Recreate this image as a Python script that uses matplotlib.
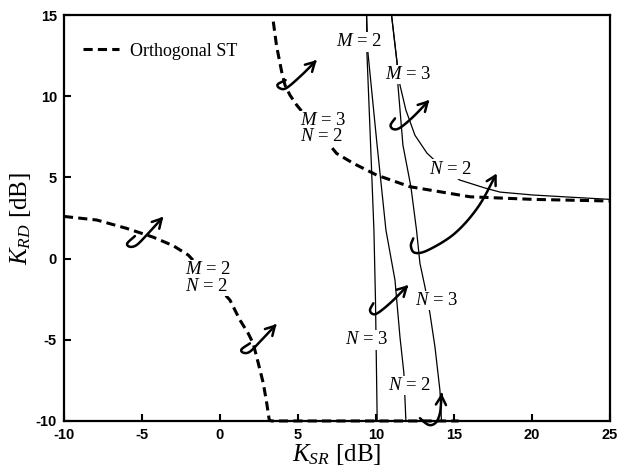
import numpy as np
import matplotlib
matplotlib.use("Agg")
import matplotlib.pyplot as plt
from matplotlib.patches import FancyArrowPatch
from matplotlib.path import Path

plt.rcParams['font.family'] = ['Liberation Serif', 'DejaVu Serif']
plt.rcParams['mathtext.fontset'] = 'custom'
plt.rcParams['mathtext.rm'] = 'Liberation Serif'
plt.rcParams['mathtext.it'] = 'Liberation Serif:italic'
plt.rcParams['mathtext.bf'] = 'Liberation Serif:bold'
plt.rcParams['axes.unicode_minus'] = False

# orthogonal space-time curves (dashed)
ost_m2n2_x = [-10, -7.9, -6.0, -4.3, -3.0, -2.03, 0.64, 1.28, 1.81, 2.13, 2.46, 2.78, 3.0, 3.16, 3.3, 15.3]
ost_m2n2_y = [2.6, 2.38, 1.87, 1.33, 0.8, 0.22, -2.55, -3.78, -4.6, -5.22, -6.45, -7.68, -8.91, -9.94, -10, -10]
ost_m3n2_x = [3.42, 3.63, 3.96, 4.17, 4.49, 4.92, 7.48, 8.55, 10.04, 12.18, 14.1, 16.03, 20.08, 25]
ost_m3n2_y = [14.6, 13.1, 11.5, 10.69, 10.07, 9.46, 6.48, 5.87, 5.15, 4.43, 4.12, 3.81, 3.65, 3.55]

# non-orthogonal curves (solid)
m2n3_x = [9.40, 9.42, 9.62, 9.87, 9.97, 10.08]
m2n3_y = [15, 12.7, 7.92, 1.76, -2.55, -10]
m2n2_x = [9.40, 9.49, 10.06, 10.64, 11.22, 11.54, 11.79, 11.92]
m2n2_y = [15, 12.66, 7.12, 1.76, -1.32, -4.83, -7.04, -10]
m3n3_x = [11.0, 11.35, 11.41, 11.73, 12.24, 12.6, 12.82, 13.14, 13.46, 13.78, 14.1, 14.2]
m3n3_y = [15, 12.1, 10.69, 6.99, 4.43, 1.76, -0.29, -1.73, -3.37, -5.42, -8.1, -10]
m3n2_x = [11.0, 11.35, 11.54, 11.92, 12.5, 13.27, 14.42, 15.38, 16.99, 17.95, 20.06, 22.4, 25]
m3n2_y = [15, 12.1, 10.69, 9.15, 7.6, 6.5, 5.46, 4.84, 4.35, 4.1, 3.92, 3.79, 3.65]

x_ticks = [-10, -5, 0, 5, 10, 15, 20, 25]
y_ticks = [-10, -5, 0, 5, 10, 15]

# curve labels: text, x, y, horizontal alignment
labels = [
    ('$M$ = 2', 8.91, 13.36, 'center'),
    ('$M$ = 3', 12.05, 11.34, 'center'),
    ('$N$ = 2', 14.8, 5.52, 'center'),
    ('$M$ = 3\n$N$ = 2', 5.13, 8.01, 'left'),
    ('$M$ = 2\n$N$ = 2', -2.24, -1.2, 'left'),
    ('$N$ = 3', 9.40, -5.01, 'center'),
    ('$N$ = 3', 13.89, -2.58, 'center'),
    ('$N$ = 2', 12.12, -7.81, 'center'),
]

# curl arrows (waypoints, last one is the head)
arrows = [
    ([-5.45, -5.94, -5.77, -5.34, -4.70, -3.63], [1.39, 0.94, 0.73, 0.84, 1.45, 2.58]),
    ([1.92, 1.39, 1.49, 1.92, 2.67, 3.63], [-5.22, -5.58, -5.79, -5.73, -5.01, -4.03]),
    ([4.21, 3.70, 3.85, 4.28, 5.24, 6.2], [11.0, 10.73, 10.49, 10.52, 11.31, 12.23]),
    ([11.22, 10.94, 11.11, 11.54, 12.39, 13.42], [8.64, 8.23, 7.98, 8.06, 8.74, 9.77]),
    ([12.39, 12.24, 12.5, 13.35, 15.06, 16.56, 17.74], [1.25, 0.78, 0.36, 0.53, 1.56, 3.2, 5.25]),
    ([9.83, 9.62, 9.79, 10.15, 11.01, 12.07], [-2.75, -3.16, -3.41, -3.33, -2.65, -1.63]),
    ([12.82, 13.25, 13.57, 13.89, 14.10, 14.17, 14.21], [-9.83, -10.18, -10.25, -10.04, -9.53, -8.91, -8.29]),
]


def smooth(xs, ys, n=12):
    p = np.column_stack([xs, ys]).astype(float)
    p = np.vstack([2 * p[0] - p[1], p, 2 * p[-1] - p[-2]])
    out = []
    for i in range(1, len(p) - 2):
        p0, p1, p2, p3 = p[i - 1], p[i], p[i + 1], p[i + 2]
        for t in np.linspace(0, 1, n, endpoint=False):
            out.append(0.5 * (2 * p1 + (-p0 + p2) * t
                              + (2 * p0 - 5 * p1 + 4 * p2 - p3) * t * t
                              + (-p0 + 3 * p1 - 3 * p2 + p3) * t ** 3))
    out.append(p[-2])
    return np.array(out)


fig = plt.figure(figsize=(6.33, 4.73), dpi=100)
ax = fig.add_axes([0.101, 0.110, 0.8626, 0.858])

dash = dict(color='k', lw=2.2, dashes=(3.0, 1.7))
ax.plot(ost_m2n2_x, ost_m2n2_y, label='Orthogonal ST', clip_on=False, zorder=3, **dash)
ax.plot(ost_m3n2_x, ost_m3n2_y, clip_on=False, zorder=3, **dash)

for xs, ys in [(m2n3_x, m2n3_y), (m2n2_x, m2n2_y), (m3n3_x, m3n3_y), (m3n2_x, m3n2_y)]:
    ax.plot(xs, ys, color='k', lw=0.9, zorder=2)

for txt, x, y, ha in labels:
    ax.text(x, y, txt, ha=ha, va='center', fontsize=13.5, linespacing=0.95,
            multialignment='left', zorder=4,
            bbox=dict(facecolor='white', edgecolor='none', pad=1.0))

for xs, ys in arrows:
    pts = smooth(xs, ys)
    arr = FancyArrowPatch(path=Path(pts), arrowstyle='->,head_length=0.5,head_width=0.28',
                          mutation_scale=13, lw=1.8, color='k', zorder=5, clip_on=False)
    ax.add_patch(arr)

ax.set_xlim(-10, 25)
ax.set_ylim(-10, 15)
ax.set_xticks(x_ticks)
ax.set_yticks(y_ticks)
ax.tick_params(direction='in', length=5, width=1.5, labelsize=10.5, pad=5)
for lab in ax.get_xticklabels() + ax.get_yticklabels():
    lab.set_fontfamily('Liberation Sans')
    lab.set_fontweight('bold')
for sp in ax.spines.values():
    sp.set_linewidth(1.6)

ax.set_xlabel('$K_{SR}$ [dB]', fontsize=18, labelpad=0)
ax.set_ylabel('$K_{RD}$ [dB]', fontsize=18, labelpad=2)

ax.legend(loc='upper left', bbox_to_anchor=(0.022, 0.95), frameon=False, fontsize=13,
          handlelength=2.0, handletextpad=0.6, borderaxespad=0)

fig.savefig('out.png', dpi=100)
